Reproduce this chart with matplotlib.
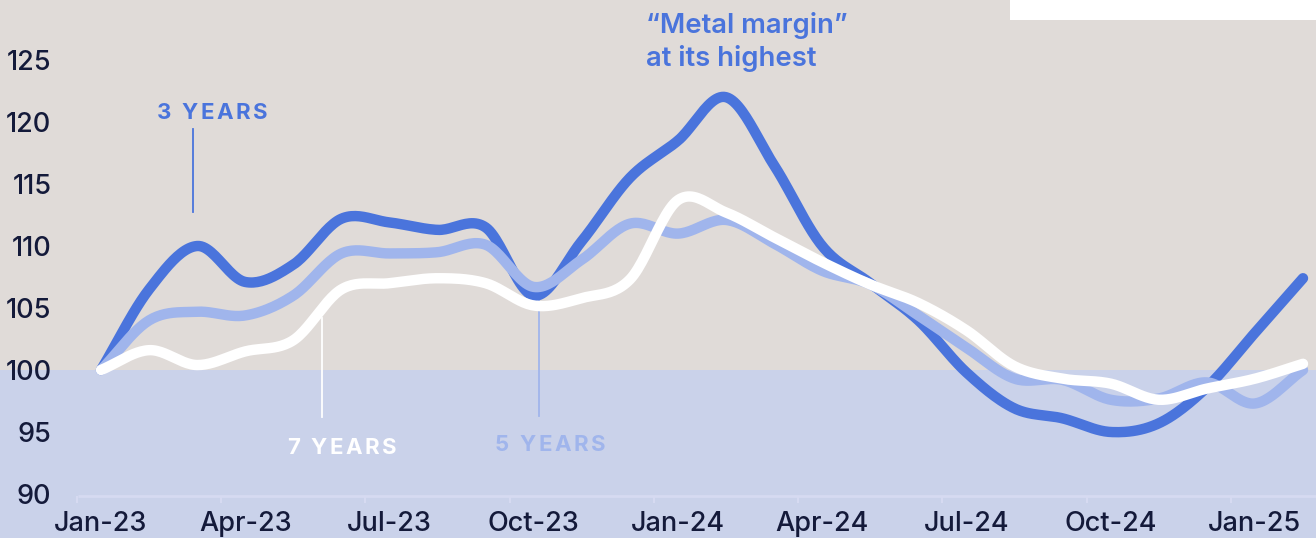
import matplotlib
matplotlib.use('Agg')
import matplotlib.pyplot as plt
import numpy as np

# monthly index, Jan-23 = 100
months = ['Jan-23', 'Feb-23', 'Mar-23', 'Apr-23', 'May-23', 'Jun-23', 'Jul-23', 'Aug-23',
          'Sep-23', 'Oct-23', 'Nov-23', 'Dec-23', 'Jan-24', 'Feb-24', 'Mar-24', 'Apr-24',
          'May-24', 'Jun-24', 'Jul-24', 'Aug-24', 'Sep-24', 'Oct-24', 'Nov-24', 'Dec-24',
          'Jan-25', 'Feb-25']
years_3 = [100.0, 106.5, 110.0, 107.1, 108.5, 112.2, 111.9, 111.3, 111.5, 106.0, 110.4, 115.5,
           118.5, 122.0, 116.5, 110.0, 107.0, 104.0, 99.8, 96.9, 96.1, 95.0, 95.7, 98.6,
           103.0, 107.4]
years_5 = [100.0, 104.0, 104.7, 104.4, 106.0, 109.4, 109.4, 109.5, 110.1, 106.7, 108.9, 111.8,
           111.0, 112.1, 110.2, 108.0, 106.9, 104.4, 101.8, 99.3, 99.2, 97.6, 97.7, 99.0,
           97.3, 100.0]
years_7 = [100.0, 101.6, 100.4, 101.5, 102.4, 106.5, 107.0, 107.4, 107.0, 105.2, 105.8, 107.3,
           113.7, 112.7, 110.7, 108.7, 106.9, 105.4, 103.2, 100.3, 99.3, 98.9, 97.6, 98.5,
           99.3, 100.5]
yticks = [90, 95, 100, 105, 110, 115, 120, 125]
xlabel_idx = [0, 3, 6, 9, 12, 15, 18, 21, 24]

DARK = '#4a74dc'
LIGHT = '#a0b5ec'
NAVY = '#141a3a'
TOP_BG = '#e0dbd8'
LOW_BG = '#cad2ea'


def smooth(y, n=24):
    # catmull-rom through the monthly points
    y = np.asarray(y, float)
    p = np.concatenate([[2 * y[0] - y[1]], y, [2 * y[-1] - y[-2]]])
    xs, ys = [], []
    t = np.linspace(0, 1, n, endpoint=False)
    for i in range(len(y) - 1):
        p0, p1, p2, p3 = p[i], p[i + 1], p[i + 2], p[i + 3]
        seg = 0.5 * (2 * p1 + (-p0 + p2) * t + (2 * p0 - 5 * p1 + 4 * p2 - p3) * t ** 2
                     + (-p0 + 3 * p1 - 3 * p2 + p3) * t ** 3)
        xs.append(i + t)
        ys.append(seg)
    xs.append([len(y) - 1])
    ys.append([y[-1]])
    return np.concatenate(xs), np.concatenate(ys)


def px(xp, yp):
    # pixel position (from top-left) -> data coords
    return (xp - 101) / 48.08, 100 + (370 - yp) / 12.4


def spaced_text(ax, xc, yc, s, color, size, spacing):
    # letter-spaced label centred at pixel (xc, yc)
    r = ax.figure.canvas.get_renderer()
    def width(t):
        if not t:
            return 0.0
        tmp = ax.text(0, 0, t, fontsize=size, fontweight=700)
        w = tmp.get_window_extent(r).width
        tmp.remove()
        return w
    total = width(s) + spacing * (len(s) - 1)
    left = xc - total / 2
    for i, ch in enumerate(s):
        if ch == ' ':
            continue
        xi = left + width(s[:i]) + spacing * i
        ax.text(*px(xi, yc), ch, color=color, fontsize=size, fontweight=700,
                ha='left', va='center', zorder=6)


plt.rcParams['font.family'] = ['Inter', 'DejaVu Sans']

fig = plt.figure(figsize=(13.16, 5.38), dpi=100)
fig.patch.set_facecolor(TOP_BG)
ax = fig.add_axes([0, 0, 1, 1])
ax.set_facecolor(TOP_BG)

ax.set_xlim(px(0, 0)[0], px(1316, 0)[0])
ax.set_ylim(px(0, 538)[1], px(0, 0)[1])

ax.axhspan(80, 100, color=LOW_BG, lw=0, zorder=0)

# white box top right
ax.add_patch(plt.Rectangle((1010 / 1316, 1 - 20 / 538), 0.3, 0.1, transform=ax.transAxes,
                           color='white', lw=0, zorder=1))

# baseline and small ticks between categories
base = px(0, 496)[1]
ax.plot([-0.48, px(1316, 0)[0]], [base, base], color='#d6daf1', lw=2, zorder=1,
        solid_capstyle='butt')
ax.vlines([i - 0.5 for i in xlabel_idx], base - 0.55, base, color='#d6daf1', lw=1.5, zorder=1)

for vals, col, z in [(years_3, DARK, 3), (years_5, LIGHT, 4), (years_7, 'white', 5)]:
    xs, ys = smooth(vals)
    ax.plot(xs, ys, color=col, lw=7.5, solid_capstyle='round', zorder=z)

# ticks
ax.set_yticks(yticks)
ax.set_yticklabels([str(v) for v in yticks])
ax.set_xticks(xlabel_idx)
ax.set_xticklabels([months[i] for i in xlabel_idx])
ax.tick_params(axis='y', length=0, pad=-37, labelsize=19.5, labelcolor=NAVY)
ax.tick_params(axis='x', length=0, pad=-19.5, labelsize=19.5, labelcolor=NAVY)
for lab in ax.get_xticklabels() + ax.get_yticklabels():
    lab.set_fontweight(500)
for s in ax.spines.values():
    s.set_visible(False)

# series labels with leader lines
for xl, y_top, y_bot, col in [(193, 129, 212, DARK), (322, 318, 417, 'white'), (539, 295, 416, LIGHT)]:
    ax.plot([px(xl, 0)[0]] * 2, [px(0, y_top)[1], px(0, y_bot)[1]], color=col, lw=1.3, zorder=2)

spaced_text(ax, 212, 113, '3 YEARS', DARK, 16, 2.6)
spaced_text(ax, 342, 448, '7 YEARS', 'white', 16, 2.6)
spaced_text(ax, 550, 445, '5 YEARS', LIGHT, 16, 2.6)

ax.text(*px(646, 42), '\u201cMetal margin\u201d\nat its highest', color=DARK, fontsize=19.8,
        fontweight=600, ha='left', va='center', linespacing=1.3)

fig.savefig('out.png', dpi=100, facecolor=TOP_BG)
